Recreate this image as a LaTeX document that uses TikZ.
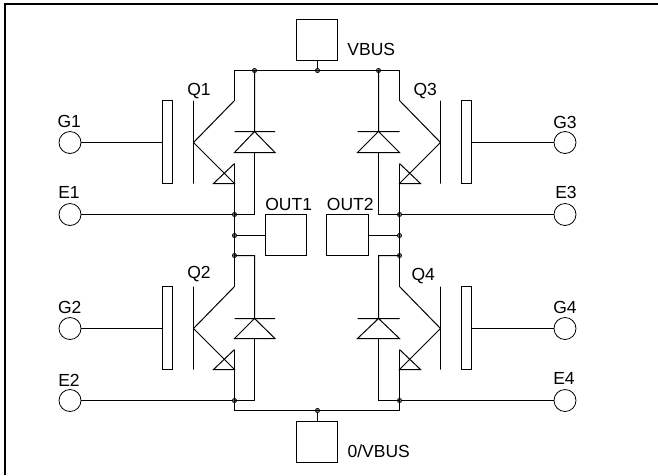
\documentclass[tikz,border=0pt]{standalone}
\usepackage{fontspec}
\setmainfont{Liberation Sans}
\tikzset{
	wire/.style={line width=1pt,black},
	frameline/.style={line width=2pt,black},
	pin/.style={circle,draw,line width=0.8pt,minimum size=22pt,inner sep=0pt},
	dotjoin/.style={circle,draw,line width=0.7pt,fill=black!50!white,minimum size=4.2pt,inner sep=0pt},
	termbox/.style={rectangle,draw,wire,fill=white,inner sep=0pt,minimum width=41pt,minimum height=41pt},
	gateplate/.style={rectangle,draw,wire,inner sep=0pt,minimum width=10pt,minimum height=83pt},
	basebar/.style={rectangle,draw,wire,inner sep=0pt,minimum width=0pt,minimum height=83pt},
	lbl/.style={inner sep=0pt,font=\fontsize{17.5}{19}\selectfont}
}
\begin{document}
\begin{tikzpicture}[x=1pt,y=-1pt]
		\useasboundingbox (0,0) rectangle (658,475);
		\coordinate (frameA) at (5,475);
		\coordinate (frameB) at (5,4);
		\coordinate (frameC) at (658,4);
		\draw[frameline] (frameA) -- (frameB) -- (frameC);
		
		\node[dotjoin] (railA) at (254.5,70.5){};
		\node[dotjoin] (railB) at (317.5,70.5){};
		\node[dotjoin] (railC) at (378.5,70.5){};
		\node[dotjoin] (railD) at (317.5,410.5){};
		\node[dotjoin] (leftE) at (234.5,214.5){};
		\node[dotjoin] (leftO) at (234.5,235.5){};
		\node[dotjoin] (leftC) at (234.5,255.5){};
		\node[dotjoin] (leftB) at (234.5,400.5){};
		\node[dotjoin] (rightE) at (399.5,214.5){};
		\node[dotjoin] (rightO) at (399.5,235.5){};
		\node[dotjoin] (rightC) at (399.5,255.5){};
		\node[dotjoin] (rightB) at (399.5,400.5){};
		
		\node[termbox] (vbus) at (317,40){};
		\node[lbl] (vbustext) at (371.3,49.7){VBUS};
		\node[termbox] (gnd) at (317,442){};
		\node[lbl] (gndtext) at (378.7,451.3){0/VBUS};
		\node[termbox] (out1) at (286,235){};
		\node[lbl] (out1text) at (288.7,204.3){OUT1};
		\node[termbox,minimum width=42pt] (out2) at (347.5,235){};
		\node[lbl] (out2text) at (350.3,204.3){OUT2};
		
		\node[pin] (G1) at (70,142.5){};
		\node[lbl] (G1text) at (69.3,121.7){G1};
		\node[pin] (E1) at (70,214.5){};
		\node[lbl] (E1text) at (69,192.7){E1};
		\node[pin] (G2) at (70,328.5){};
		\node[lbl] (G2text) at (69.7,307.3){G2};
		\node[pin] (E2) at (70,400.5){};
		\node[lbl] (E2text) at (69,380){E2};
		\node[pin] (G3) at (565,142.5){};
		\node[lbl] (G3text) at (565,122){G3};
		\node[pin] (E3) at (565,214.5){};
		\node[lbl] (E3text) at (566,192.7){E3};
		\node[pin] (G4) at (565,328.5){};
		\node[lbl] (G4text) at (565,307.3){G4};
		\node[pin] (E4) at (565,400.5){};
		\node[lbl] (E4text) at (564,378.3){E4};
		
		\node[lbl] (Q1text) at (199,91){Q1};
		\node[gateplate] (Q1gate) at (167.5,142){};
		\node[basebar] (Q1bar) at (193.5,142){};
		\coordinate (Q1b) at (193.5,142.5);
		\coordinate (Q1c) at (234.5,100.5);
		\coordinate (Q1e) at (234.5,183.5);
		\coordinate (Q1t) at (234.5,163.5);
		
		\node[lbl] (Q2text) at (199,274.3){Q2};
		\node[gateplate] (Q2gate) at (167.5,328){};
		\node[basebar] (Q2bar) at (193.5,328){};
		\coordinate (Q2b) at (193.5,328.5);
		\coordinate (Q2c) at (234.5,286.5);
		\coordinate (Q2e) at (234.5,369.5);
		\coordinate (Q2t) at (234.5,349.5);
		
		\node[lbl] (Q3text) at (425.3,90.7){Q3};
		\node[gateplate] (Q3gate) at (466.5,142){};
		\node[basebar] (Q3bar) at (440.5,142){};
		\coordinate (Q3b) at (440.5,142.5);
		\coordinate (Q3c) at (399.5,100.5);
		\coordinate (Q3e) at (399.5,183.5);
		\coordinate (Q3t) at (399.5,163.5);
		
		\node[lbl] (Q4text) at (423.3,276){Q4};
		\node[gateplate] (Q4gate) at (466.5,328){};
		\node[basebar] (Q4bar) at (440.5,328){};
		\coordinate (Q4b) at (440.5,328.5);
		\coordinate (Q4c) at (399.5,286.5);
		\coordinate (Q4e) at (399.5,369.5);
		\coordinate (Q4t) at (399.5,349.5);
		
		% supply rails and outputs
		\draw[wire] (Q1c) |- (railA.center) -- (railB.center) -- (railC.center) -| (Q3c);
		\draw[wire] (Q2t) -- (leftB.center) |- (railD.center) -| (rightB.center) -- (Q4t);
		\draw[wire] (vbus.south -| railB) -- (railB);
		\draw[wire] (gnd.north -| railD) -- (railD);
		\draw[wire] (Q1t) -- (Q2c);
		\draw[wire] (Q3t) -- (Q4c);
		\draw[wire] (out1.east |- leftO) ++(-41,0) -- (leftO);
		\draw[wire] (out2.east |- rightO) -- (rightO);
		
		% gates and emitters
		\draw[wire] (G1) -- (Q1gate.west |- G1);
		\draw[wire] (G2) -- (Q2gate.west |- G2);
		\draw[wire] (G3) -- (Q3gate.east |- G3);
		\draw[wire] (G4) -- (Q4gate.east |- G4);
		\draw[wire] (E1) -- (leftE);
		\draw[wire] (E2) -- (leftB);
		\draw[wire] (E3) -- (rightE);
		\draw[wire] (E4) -- (rightB);
		
		% transistors
		\draw[wire] (Q1c) -- (Q1b) -- (Q1e) -- ++(-21,0) -- (Q1t);
		\draw[wire] (Q2c) -- (Q2b) -- (Q2e) -- ++(-21,0) -- (Q2t);
		\draw[wire] (Q3c) -- (Q3b) -- (Q3e) -- ++(21,0) -- (Q3t);
		\draw[wire] (Q4c) -- (Q4b) -- (Q4e) -- ++(21,0) -- (Q4t);
		
		% diodes
		\draw[wire] (railA.center) -- (254.5,131.5) (234.5,131.5) -- (275,131.5) (254.5,131.5) -- (234.5,152.5) -- (275,152.5) -- cycle;
		\draw[wire] (254.5,152.5) |- (leftE.center);
		\draw[wire] (leftC.center) -| (254.5,318.5) (234.5,318.5) -- (275,318.5) (254.5,318.5) -- (234.5,338.5) -- (275,338.5) -- cycle;
		\draw[wire] (254.5,338.5) |- (leftB.center);
		\draw[wire] (railC.center) -- (378.5,131.5) (357.5,131.5) -- (399.5,131.5) (378.5,131.5) -- (357.5,152.5) -- (399.5,152.5) -- cycle;
		\draw[wire] (378.5,152.5) |- (rightE.center);
		\draw[wire] (rightC.center) -| (378.5,318.5) (357.5,318.5) -- (399.5,318.5) (378.5,318.5) -- (357.5,338.5) -- (399.5,338.5) -- cycle;
		\draw[wire] (378.5,338.5) |- (rightB.center);
		
		\end{tikzpicture}
\end{document}
